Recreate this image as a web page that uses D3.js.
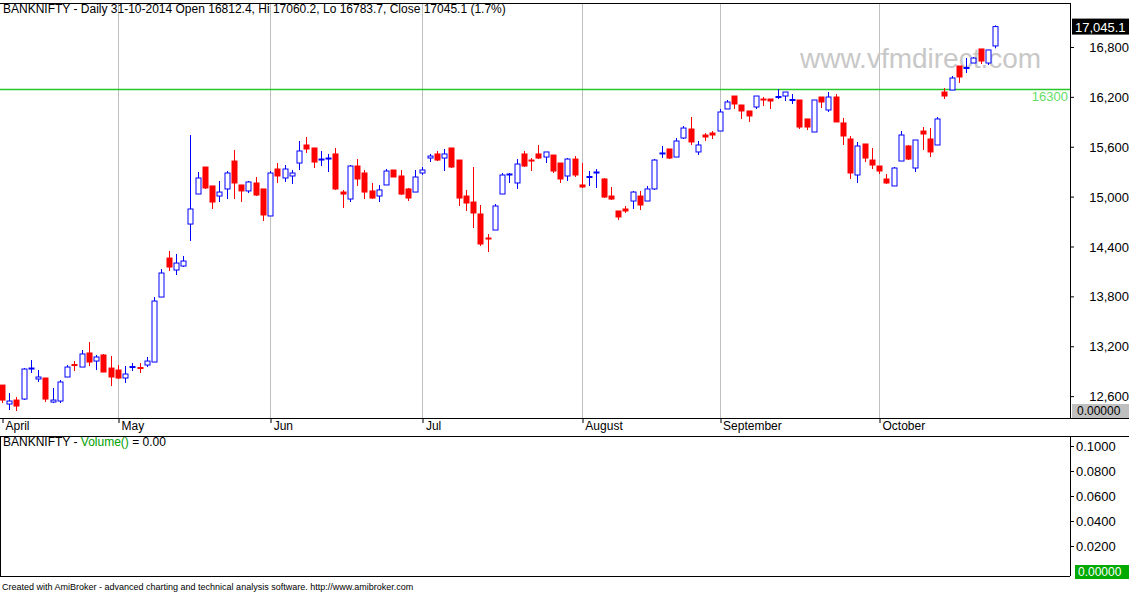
<!DOCTYPE html>
<html>
<head>
<meta charset="utf-8">
<script src="https://cdn.jsdelivr.net/npm/d3@7"></script>
<style>
  body { margin: 0; background: #fff; }
  text { font-family: "Liberation Sans", Arial, sans-serif; }
</style>
</head>
<body>
<svg id="chart" width="1129" height="593"></svg>
<script>
'use strict';

// daily candles, 1-Apr-2014 .. 31-Oct-2014
const opens = [12733,12505,12553,12565,12926,12806,12818,12529,12541,12830,12980,12950,13119,13022,13095,12938,12914,12818,12944,12944,12974,13010,13792,14261,14117,14165,14670,15031,15356,15128,15007,15092,15428,15140,15068,15164,15092,14767,15332,15224,15248,15404,15621,15585,15440,15452,15513,15055,14971,15368,15284,15068,15007,15140,15320,15248,15092,15055,15284,15464,15513,15464,15585,15440,15007,14935,14791,14502,14598,15031,15260,15164,15513,15440,15513,15476,15500,15404,15248,15452,15140,15230,15284,15212,15007,14827,14851,14947,15007,14947,15092,15513,15573,15476,15705,15813,15537,15741,15765,15789,16054,16210,16102,16030,16078,16174,16174,16192,16210,16156,16162,15934,15777,16198,16042,16198,15886,15693,15260,15633,15440,15368,15212,15128,15428,15609,15344,15789,15693,15621,16258,16282,16571,16541,16607,16776,16607,16812.4];
const highs = [12733,12637,12589,12938,13034,12914,12818,12697,12794,12974,13022,13155,13251,13095,13107,13083,12974,12962,12998,12998,13071,13792,14129,14346,14310,14286,15741,15296,15356,15128,15188,15308,15561,15140,15188,15236,15092,15308,15404,15380,15320,15669,15717,15585,15549,15513,15585,15080,15380,15452,15320,15164,15140,15332,15320,15320,15104,15320,15356,15513,15549,15573,15585,15440,15080,15356,14899,14550,14911,15284,15284,15452,15549,15464,15621,15537,15500,15404,15464,15488,15404,15308,15332,15224,15116,14827,14887,15068,15068,15128,15452,15609,15573,15705,15849,15958,15669,15765,15789,16054,16162,16210,16102,16030,16210,16198,16174,16294,16258,16234,16162,15934,16162,16198,16258,16234,15946,15729,15657,15633,15585,15368,15272,15356,15789,15621,15681,15837,15825,15958,16306,16451,16571,16667,16679,16776,16764,17060.2];
const lows = [12517,12433,12421,12553,12878,12770,12529,12517,12517,12830,12902,12950,12962,12914,12890,12721,12806,12758,12902,12878,12950,13010,13792,14105,14057,14153,14466,15031,15092,14851,14935,14971,14971,14935,15043,15007,14707,14767,15164,15176,15152,15320,15525,15344,15368,15296,15080,14863,14935,15128,14971,14971,14935,15140,15236,15019,14947,15055,15260,15416,15428,15308,15344,14887,14827,14622,14406,14334,14598,15031,15164,15092,15356,15308,15452,15404,15284,15164,15188,15236,15104,15128,15104,14983,14959,14719,14803,14851,14839,14947,15080,15464,15452,15476,15693,15621,15500,15669,15693,15789,16054,16054,15934,15898,16054,16090,16054,16174,16150,16114,15813,15801,15777,16066,16018,15898,15621,15212,15164,15416,15332,15272,15152,15128,15428,15440,15296,15561,15476,15621,16174,16282,16367,16487,16607,16595,16583,16783.7];
const closes = [12553,12541,12481,12926,12938,12830,12565,12553,12770,12950,12968,13107,13010,13071,12890,12830,12818,12866,12956,12932,13022,13744,14081,14153,14201,14225,14851,15224,15104,14935,15055,15284,15164,15068,15176,15019,14779,15284,15248,15332,15284,15549,15573,15416,15452,15464,15092,15031,15368,15212,15055,14983,15080,15308,15236,15031,14983,15236,15320,15488,15440,15513,15356,14983,14923,14803,14430,14490,14887,15260,15272,15392,15368,15428,15464,15537,15308,15212,15452,15260,15116,15242,15296,14995,14971,14755,14827,15055,14899,15092,15440,15525,15464,15669,15825,15657,15621,15717,15741,16018,16138,16114,16030,15970,16210,16162,16150,16204,16258,16168,15837,15837,16162,16138,16198,15898,15729,15284,15609,15464,15380,15308,15164,15344,15741,15452,15681,15753,15537,15934,16210,16427,16439,16553,16667,16631,16764,17045.1];

// first trading day index of each month
const monthNames = ["April", "May", "Jun", "Jul", "August", "September", "October"];
const monthStarts = [0, 16, 37, 58, 80, 99, 121];

const priceTicks = [12600, 13200, 13800, 14400, 15000, 15600, 16200, 16800];
const volumeTicks = [0.02, 0.04, 0.06, 0.08, 0.10];
const levelLine = 16300;

const svg = d3.select("#chart");
const W = 1129, H = 593;
const plotRight = 1070;
const priceTop = 3, priceBottom = 418;
const volTop = 436, volBottom = 576;

const data = opens.map((o, i) => ({ i: i, o: o, h: highs[i], l: lows[i], c: closes[i] }));

const x = d3.scaleLinear().domain([0, data.length - 1]).range([2, 995]);
const y = d3.scaleLinear().domain([12337, 17365]).range([418, 0]);
const yVol = d3.scaleLinear().domain([0, 0.1]).range([571, 446]);

// month separators
svg.selectAll(".sep").data(monthStarts.slice(1)).enter().append("line")
    .attr("x1", d => Math.round(x(d)) + 0.5).attr("x2", d => Math.round(x(d)) + 0.5)
    .attr("y1", priceTop).attr("y2", priceBottom)
    .attr("stroke", "#c0c0c0").attr("stroke-width", 1);

// level line
svg.append("line")
    .attr("x1", 0).attr("x2", plotRight)
    .attr("y1", Math.round(y(levelLine)) + 0.5).attr("y2", Math.round(y(levelLine)) + 0.5)
    .style("stroke", "rgb(40,200,40)").style("stroke-width", "1.3px");
svg.append("text").attr("x", plotRight - 2).attr("y", y(levelLine) + 12)
    .attr("text-anchor", "end").attr("font-size", 13).attr("fill", "#66dd66").text("16300");

// watermark
svg.append("text").attr("x", 800).attr("y", 68)
    .attr("font-size", 28).attr("fill", "#c8c8c8").text("www.vfmdirect.com");

// candles
const bw = 5;
const candles = svg.append("g").selectAll("g").data(data).enter().append("g");
candles.append("line")
    .attr("x1", d => Math.round(x(d.i)) + 0.5).attr("x2", d => Math.round(x(d.i)) + 0.5)
    .attr("y1", d => y(d.h)).attr("y2", d => y(d.l))
    .attr("stroke", d => d.c >= d.o ? "#0000ff" : "#ff0000").attr("stroke-width", 1);
candles.append("rect")
    .attr("x", d => Math.round(x(d.i)) - bw / 2 + 0.5)
    .attr("y", d => y(Math.max(d.o, d.c)))
    .attr("width", bw)
    .attr("height", d => Math.max(1, Math.abs(y(d.o) - y(d.c))))
    .attr("fill", d => d.c >= d.o ? "#ffffff" : "#ff0000")
    .attr("stroke", d => d.c >= d.o ? "#0000ff" : "#ff0000")
    .attr("stroke-width", 1);

// frame lines
const frame = svg.append("g").attr("stroke", "#000").attr("stroke-width", 1);
frame.append("line").attr("x1", 0).attr("x2", plotRight).attr("y1", priceTop + 0.5).attr("y2", priceTop + 0.5);
frame.append("line").attr("x1", 0).attr("x2", plotRight + 60).attr("y1", priceBottom + 0.5).attr("y2", priceBottom + 0.5);
frame.append("line").attr("x1", plotRight + 0.5).attr("x2", plotRight + 0.5).attr("y1", priceTop).attr("y2", priceBottom);
frame.append("line").attr("x1", 0).attr("x2", W).attr("y1", volTop + 0.5).attr("y2", volTop + 0.5);
frame.append("line").attr("x1", 0).attr("x2", plotRight).attr("y1", volBottom + 0.5).attr("y2", volBottom + 0.5);
frame.append("line").attr("x1", plotRight + 0.5).attr("x2", plotRight + 0.5).attr("y1", volTop).attr("y2", volBottom);
frame.append("line").attr("x1", 0.5).attr("x2", 0.5).attr("y1", volTop).attr("y2", volBottom);

// right price axis
const pAxis = svg.append("g").attr("transform", `translate(${plotRight},0)`)
    .call(d3.axisRight(y).tickValues(priceTicks).tickSize(4).tickFormat(d3.format(",")));
pAxis.select(".domain").remove();
pAxis.selectAll("text").attr("font-size", 13).attr("x", 59).attr("text-anchor", "end").attr("dy", "0.35em")
    .style("font-family", "Liberation Sans, Arial, sans-serif");

// last close marker
const lastY = y(closes[closes.length - 1]);
svg.append("rect").attr("x", plotRight + 2).attr("y", lastY - 8).attr("width", 58).attr("height", 16).attr("fill", "#000");
svg.append("text").attr("x", plotRight + 5).attr("y", lastY + 5).attr("font-size", 13).attr("fill", "#fff").text("17,045.1");
svg.append("rect").attr("x", plotRight + 2).attr("y", 404).attr("width", 58).attr("height", 14).attr("fill", "#c0c0c0");
svg.append("text").attr("x", plotRight + 7).attr("y", 415).attr("font-size", 12).attr("fill", "#000").text("0.00000");

// date axis
const xAxis = svg.append("g").attr("transform", `translate(0,${priceBottom})`)
    .call(d3.axisBottom(x).tickValues(monthStarts).tickSize(5).tickFormat((d, k) => monthNames[k]));
xAxis.select(".domain").remove();
xAxis.selectAll(".tick line").attr("transform", d => `translate(${Math.round(x(d)) - x(d) + 0.5},0)`);
xAxis.selectAll("text").attr("text-anchor", "start").attr("x", 3).attr("y", 3).attr("font-size", 12)
    .attr("fill", "#000").style("font-family", "Liberation Sans, Arial, sans-serif");

// volume axis
const vAxis = svg.append("g").attr("transform", `translate(${plotRight},0)`)
    .call(d3.axisRight(yVol).tickValues(volumeTicks).tickSize(4).tickFormat(d3.format(".4f")));
vAxis.select(".domain").remove();
vAxis.selectAll("text").attr("font-size", 13).attr("x", 6).attr("dy", "0.35em")
    .style("font-family", "Liberation Sans, Arial, sans-serif");
svg.append("rect").attr("x", plotRight + 5).attr("y", 565).attr("width", 55).attr("height", 14).attr("fill", "#00aa00");
svg.append("text").attr("x", plotRight + 8).attr("y", 576).attr("font-size", 12).attr("fill", "#fff").text("0.00000");

// titles
svg.append("text").attr("x", 3).attr("y", 13).attr("font-size", 12)
    .text("BANKNIFTY - Daily 31-10-2014 Open 16812.4, Hi 17060.2, Lo 16783.7, Close 17045.1 (1.7%)");
const vt = svg.append("text").attr("x", 3).attr("y", 446).attr("font-size", 12);
vt.append("tspan").text("BANKNIFTY - ");
vt.append("tspan").attr("fill", "#00a000").text("Volume()");
vt.append("tspan").text(" = 0.00");
svg.append("text").attr("x", 2).attr("y", 590).attr("font-size", 9)
    .text("Created with AmiBroker - advanced charting and technical analysis software. http://www.amibroker.com");
</script>
</body>
</html>
